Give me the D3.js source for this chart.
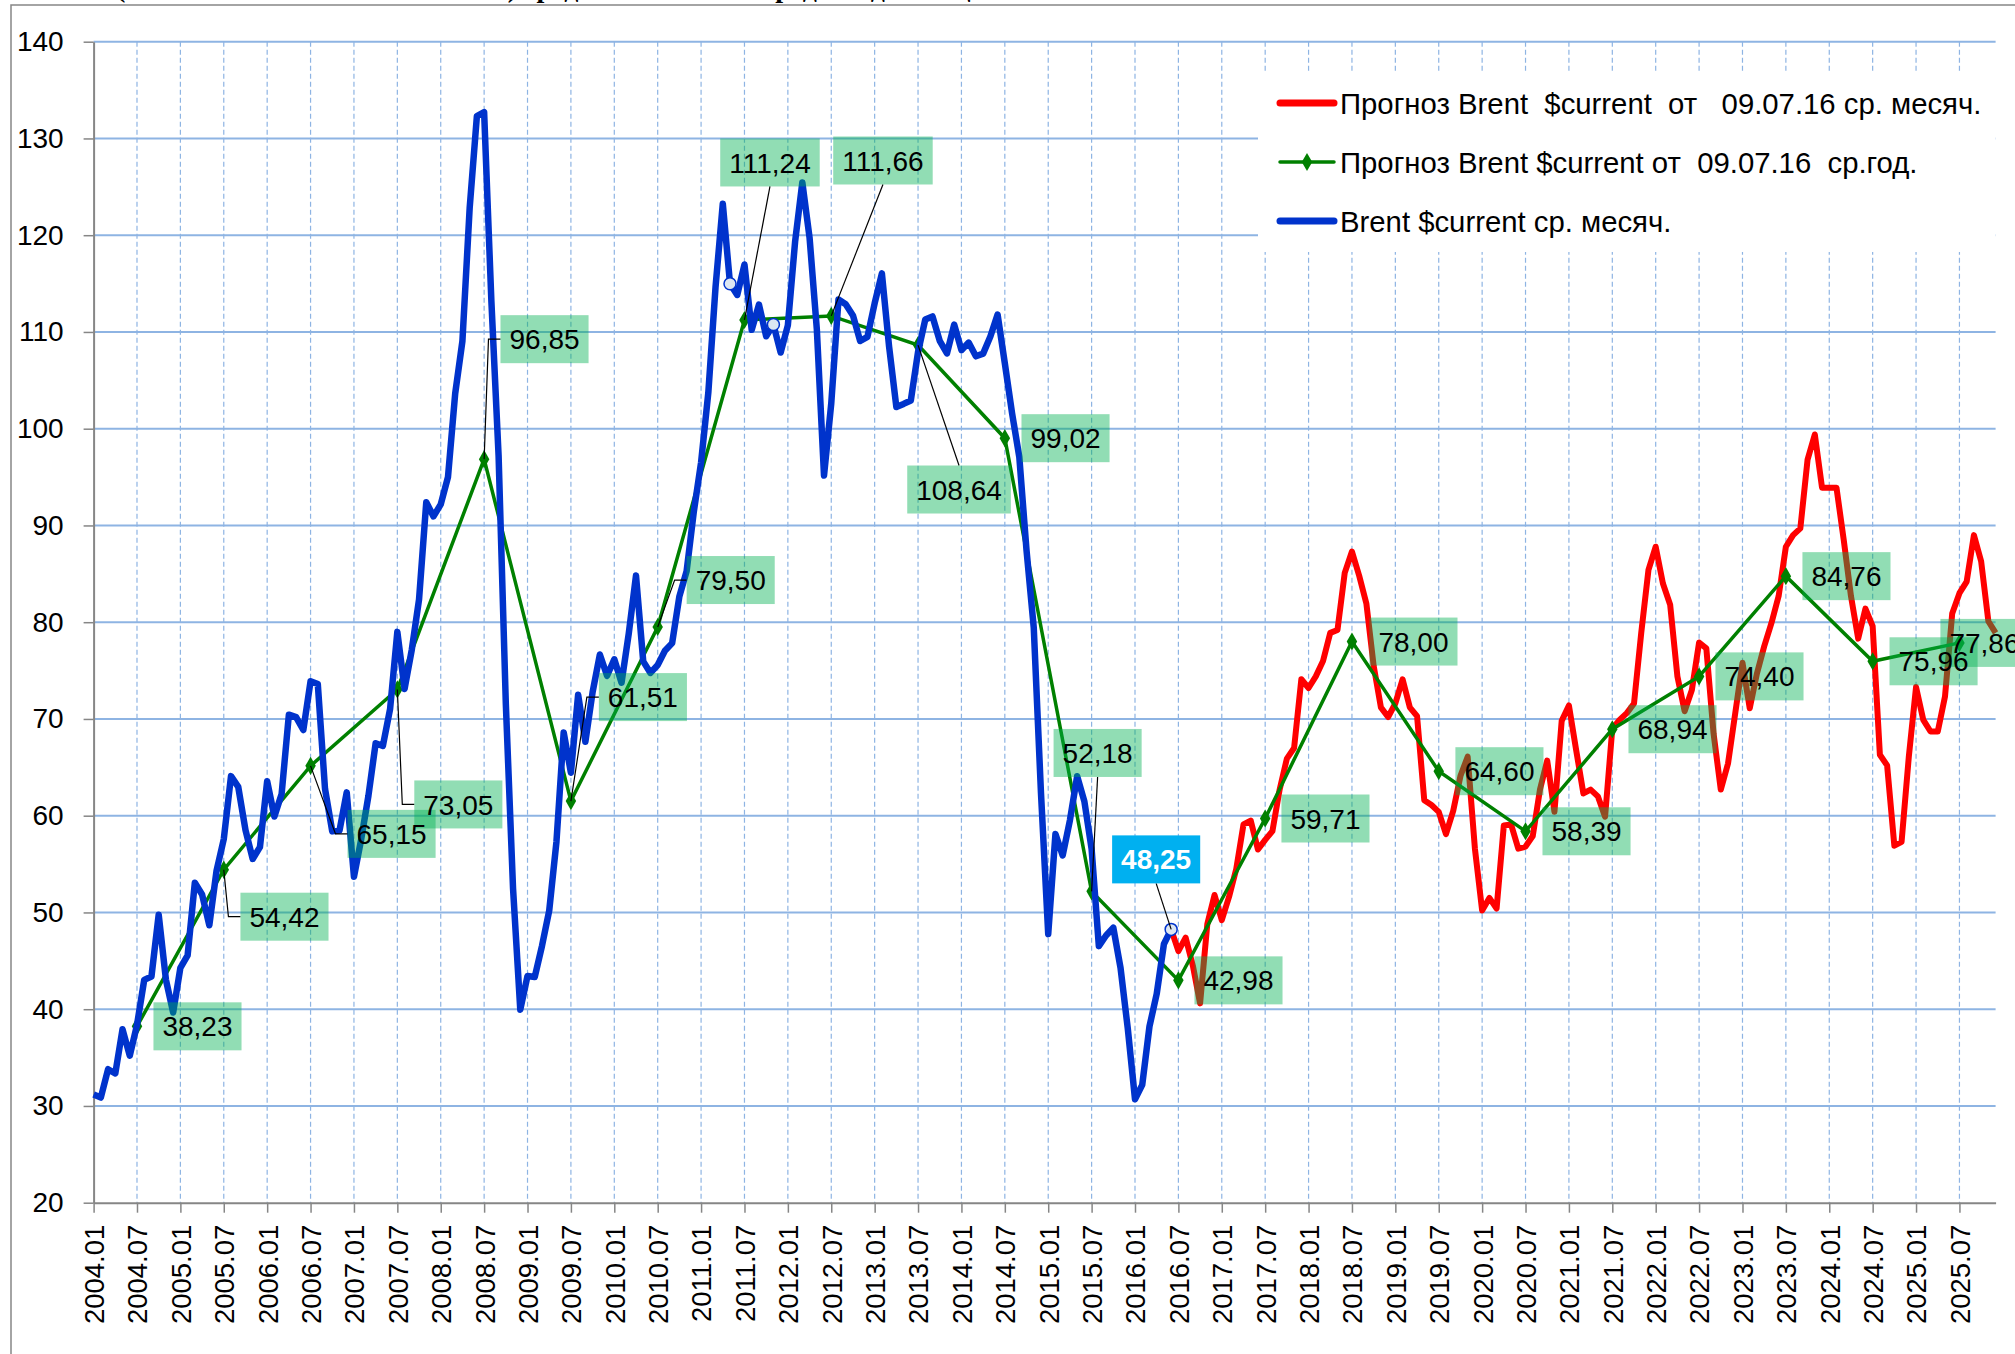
<!DOCTYPE html>
<html>
<head>
<meta charset="utf-8">
<script src="https://cdn.jsdelivr.net/npm/d3@7"></script>
<style>
body { margin: 0; background: #fff; }
svg { display: block; font-family: 'Liberation Sans', Arial, sans-serif; }
.keep { white-space: pre; }
</style>
</head>
<body>
<svg></svg>
<script>
// monthly Brent, $current, 2004.01 .. 2016.06
const brentMonthly = [
	31.18, 30.87, 33.80, 33.36, 37.92, 35.19, 38.37, 43.03, 43.38, 49.77, 43.05, 39.66,
	44.28, 45.56, 53.08, 51.86, 48.67, 54.31, 57.58, 64.09, 62.98, 58.52, 55.53, 56.75,
	63.57, 59.92, 62.25, 70.44, 70.19, 68.86, 73.90, 73.61, 62.77, 58.38, 58.46, 62.41,
	53.68, 57.56, 62.05, 67.49, 67.21, 71.05, 79.00, 73.10, 77.17, 82.34, 92.41, 90.93,
	92.18, 94.99, 103.64, 109.07, 122.80, 132.32, 132.72, 113.24, 97.23, 71.58, 52.45, 39.95,
	43.44, 43.32, 46.54, 50.18, 57.30, 68.61, 64.44, 72.51, 67.65, 72.77, 76.66, 74.46,
	76.17, 73.75, 78.83, 84.82, 75.95, 74.76, 75.58, 77.04, 77.84, 82.67, 85.28, 91.45,
	96.52, 103.72, 114.64, 123.26, 114.99, 113.83, 116.97, 110.22, 112.83, 109.55, 110.77, 107.87,
	110.69, 119.33, 125.45, 119.75, 110.34, 95.16, 102.62, 113.36, 112.86, 111.71, 109.06, 109.49,
	112.96, 116.05, 108.47, 102.25, 102.56, 102.92, 107.93, 111.28, 111.60, 109.08, 107.79, 110.76,
	108.12, 108.90, 107.48, 107.76, 109.54, 111.80, 106.77, 101.61, 97.09, 87.43, 79.44, 62.34,
	47.76, 58.10, 55.89, 59.52, 64.08, 61.48, 56.56, 46.52, 47.62, 48.43, 44.27, 38.01,
	30.70, 32.18, 38.21, 41.58, 46.74, 48.25
];

// forecast of 09.07.16, monthly, 2016.06 .. 2025.12
const forecastStart = '2016.06';
const forecastMonthly = [
	48.25, 46.0, 47.4, 44.5, 40.6, 48.8, 51.8,
	49.2, 51.6, 54.5, 59.1, 59.5, 56.5, 57.5, 58.4, 62.7, 65.9, 67.0, 74.1,
	73.2, 74.4, 76.0, 78.9, 79.2, 85.1, 87.3, 84.8, 81.9, 75.5, 71.2, 70.2,
	71.6, 74.1, 71.2, 70.3, 61.6, 61.1, 60.4, 58.1, 60.5, 64.1, 66.1, 56.6,
	50.2, 51.5, 50.4, 59.0, 59.1, 56.6, 56.8, 57.9, 62.7, 65.7, 60.4, 69.8,
	71.4, 66.8, 62.3, 62.7, 62.0, 59.9, 69.0, 69.9, 70.6, 71.6, 78.9, 85.4,
	87.8, 84.0, 81.8, 74.4, 70.8, 73.0, 77.9, 77.3, 68.5, 62.7, 65.4, 70.6,
	75.8, 71.1, 74.7, 77.5, 79.9, 82.7, 87.8, 89.0, 89.7, 96.8, 99.4, 93.9,
	93.9, 93.9, 88.5, 82.7, 78.3, 81.4, 79.6, 66.3, 65.2, 56.9, 57.3, 66.1,
	73.3, 69.9, 68.7, 68.7, 72.3, 80.9, 83.0, 84.2, 89.0, 86.3, 80.1, 78.9
];

// forecast of 09.07.16, yearly averages (plotted at July)
const annualYears = [2004, 2005, 2006, 2007, 2008, 2009, 2010, 2011, 2012, 2013, 2014,
	2015, 2016, 2017, 2018, 2019, 2020, 2021, 2022, 2023, 2024, 2025];
const annualValues = [38.23, 54.42, 65.15, 73.05, 96.85, 61.51, 79.50, 111.24, 111.66, 108.64, 99.02,
	52.18, 42.98, 59.71, 78.00, 64.60, 58.39, 68.94, 74.40, 84.76, 75.96, 77.86];

const markedMonths = ['2011.05', '2011.11', '2016.06'];
const calloutMonth = '2016.06';

const yTicks = [20, 30, 40, 50, 60, 70, 80, 90, 100, 110, 120, 130, 140];

const legendLabels = [
	'Прогноз Brent  $current  от   09.07.16 ср. месяч.',
	'Прогноз Brent $current от  09.07.16  ср.год.',
	'Brent $current ср. месяч.'
];

const titleText = '(номинальная стоимость Brent) среднемесячные и среднегодовые цены';

const svg = d3.select('svg')
	.attr('width', 2015)
	.attr('height', 1354);

let width = +svg.attr('width'),
	height = +svg.attr('height');

// label box centre relative to its point, and leader style
const labelPlacement = [
	[60.5, 0, ''], [60.7, 47, 'elbow'], [81, 68, 'elbow'], [61, 115, 'elbow'],
	[60.4, -120, 'elbow'], [72, -104, 'elbow'], [73, -47, 'elbow'], [25.5, -157.5, 'line'],
	[51.7, -155.4, 'line'], [41, 144.4, 'line'], [60.7, 0, ''], [6, -138.4, 'line'],
	[60.1, 0, ''], [60.3, 0, ''], [61.5, 0, ''], [60.7, 0, ''], [61, 0, ''],
	[60.2, 0, ''], [60.4, 0, ''], [60.6, 0, ''], [60.9, 0, ''], [25, 0, '']
];

const monthKey = i => `${2004 + Math.floor(i / 12)}.${String(i % 12 + 1).padStart(2, '0')}`;
const fmt = v => d3.format('.2f')(v).replace('.', ',');

const render = () => {
	const margin = { top: 41.7, right: 19.4, bottom: 151.3, left: 93.6 },
		gridColor = '#8eb4e3',
		axisColor = '#868686',
		labelFont = 28;

	const months = d3.range(264).map(monthKey);
	const tickMonths = months.filter((m, i) => i % 6 === 0);

	const xScale = d3.scalePoint()
		.domain(months)
		.range([margin.left, width - margin.right]);

	const yScale = d3.scaleLinear()
		.domain([20, 140])
		.range([height - margin.bottom, margin.top]);

	const brent = brentMonthly.map((v, i) => ({ month: months[i], value: v }));
	const f0 = months.indexOf(forecastStart);
	const forecast = forecastMonthly.map((v, i) => ({ month: months[f0 + i], value: v }));
	const annual = annualYears.map((yr, i) => ({ month: `${yr}.07`, value: annualValues[i] }));
	const valueAt = m => brent[months.indexOf(m)].value;

	// chart frame and cut-off title
	svg.append('text')
		.attr('x', 116)
		.attr('y', -3)
		.attr('font-family', "'Liberation Serif', 'Times New Roman', serif")
		.attr('font-weight', 'bold')
		.attr('font-size', 28)
		.text(titleText);

	svg.append('path')
		.attr('d', `M11,${height} V5 H${width}`)
		.attr('fill', 'none')
		.attr('stroke', axisColor)
		.attr('stroke-width', 1.5);

	// gridlines
	const grid = svg.append('g');
	grid.selectAll('.hgrid')
		.data(yTicks.slice(1))
		.enter()
		.append('line')
			.attr('x1', margin.left)
			.attr('x2', width - margin.right)
			.attr('y1', d => yScale(d))
			.attr('y2', d => yScale(d))
			.attr('stroke', gridColor)
			.attr('stroke-width', 2);

	grid.selectAll('.vgrid')
		.data(tickMonths.slice(1))
		.enter()
		.append('line')
			.attr('x1', d => xScale(d))
			.attr('x2', d => xScale(d))
			.attr('y1', margin.top)
			.attr('y2', yScale(20))
			.attr('stroke', gridColor)
			.attr('stroke-width', 1.2)
			.attr('stroke-dasharray', '5,3');

	// legend background hides the grid
	svg.append('rect')
		.attr('x', 1258)
		.attr('y', 72)
		.attr('width', width - margin.right - 1258)
		.attr('height', 180)
		.attr('fill', '#fff');

	// axes
	const xAxis = d3.axisBottom(xScale)
		.tickValues(tickMonths)
		.tickSize(10)
		.tickSizeOuter(0);

	const xAxisG = svg.append('g')
		.attr('transform', `translate(0, ${yScale(20)})`)
		.call(xAxis)
		.attr('font-family', null)
		.attr('font-size', 27.5);

	xAxisG.select('.domain').attr('stroke', axisColor).attr('stroke-width', 2);
	xAxisG.selectAll('.tick line').attr('stroke', axisColor).attr('stroke-width', 1.5);
	xAxisG.selectAll('.tick text')
		.attr('fill', '#000')
		.attr('text-anchor', 'end')
		.attr('transform', 'rotate(-90)')
		.attr('x', -22)
		.attr('y', 0)
		.attr('dy', '0.36em');

	const yAxis = d3.axisLeft(yScale)
		.tickValues(yTicks)
		.tickSize(10)
		.tickPadding(20)
		.tickSizeOuter(0);

	const yAxisG = svg.append('g')
		.attr('transform', `translate(${margin.left}, 0)`)
		.call(yAxis)
		.attr('font-family', null)
		.attr('font-size', 28);

	yAxisG.select('.domain').attr('stroke', axisColor).attr('stroke-width', 2);
	yAxisG.selectAll('.tick line').attr('stroke', axisColor).attr('stroke-width', 1.5);
	yAxisG.selectAll('.tick text').attr('fill', '#000');

	// series
	const line = d3.line()
		.x(d => xScale(d.month))
		.y(d => yScale(d.value));

	svg.append('path')
		.datum(forecast)
		.attr('d', line)
		.attr('fill', 'none')
		.attr('stroke', '#ff0000')
		.attr('stroke-width', 6)
		.attr('stroke-linejoin', 'round');

	svg.append('path')
		.datum(annual)
		.attr('d', line)
		.attr('fill', 'none')
		.attr('stroke', '#008000')
		.attr('stroke-width', 3.5);

	const diamond = d3.symbol().type(d3.symbolDiamond).size(95);

	svg.selectAll('.yearMark')
		.data(annual)
		.enter()
		.append('path')
			.attr('d', diamond)
			.attr('transform', d => `translate(${xScale(d.month)}, ${yScale(d.value)})`)
			.attr('fill', '#008000');

	svg.append('path')
		.datum(brent)
		.attr('d', line)
		.attr('fill', 'none')
		.attr('stroke', '#0033cc')
		.attr('stroke-width', 6.5)
		.attr('stroke-linejoin', 'round');

	svg.selectAll('.openMark')
		.data(markedMonths)
		.enter()
		.append('circle')
			.attr('cx', d => xScale(d))
			.attr('cy', d => yScale(valueAt(d)))
			.attr('r', 6)
			.attr('fill', '#dce6f2')
			.attr('stroke', '#0033cc')
			.attr('stroke-width', 1.5);

	// data labels of yearly forecast
	const labelsG = svg.append('g').attr('font-size', labelFont);

	const addLabel = (px, py, cx, cy, text, leader, fill, opacity, color, weight) => {
		const t = labelsG.append('text')
			.attr('x', cx)
			.attr('y', cy)
			.attr('dy', '0.36em')
			.attr('text-anchor', 'middle')
			.attr('fill', color)
			.attr('font-weight', weight)
			.text(text);
		const w = t.node().getComputedTextLength() + 18,
			h = 48,
			left = cx - w / 2,
			top = cy - h / 2;

		if (leader === 'elbow') {
			labelsG.insert('path', 'text')
				.attr('d', `M${px},${py} L${left - 12},${cy} H${left}`)
				.attr('fill', 'none').attr('stroke', '#000').attr('stroke-width', 1.2);
		} else if (leader === 'line') {
			const ey = py > cy ? top + h : top;
			labelsG.insert('path', 'text')
				.attr('d', `M${px},${py} L${cx},${ey}`)
				.attr('fill', 'none').attr('stroke', '#000').attr('stroke-width', 1.2);
		}

		labelsG.insert('rect', 'text')
			.attr('x', left)
			.attr('y', top)
			.attr('width', w)
			.attr('height', h)
			.attr('fill', fill)
			.attr('fill-opacity', opacity);
	};

	annual.forEach((d, i) => {
		const [dx, dy, leader] = labelPlacement[i];
		const px = xScale(d.month), py = yScale(d.value);
		addLabel(px, py, px + dx, py + dy, fmt(d.value), leader, '#00b050', 0.43, '#000', 'normal');
	});

	const cpx = xScale(calloutMonth), cpy = yScale(valueAt(calloutMonth));
	addLabel(cpx, cpy, cpx - 15, cpy - 70, fmt(valueAt(calloutMonth)), 'line', '#00b0f0', 1, '#fff', 'bold');

	// legend
	const legendG = svg.append('g').attr('transform', 'translate(1280, 103)');
	const legendColors = ['#ff0000', '#008000', '#0033cc'];
	const legendWidths = [7, 3.5, 7];

	legendLabels.forEach((label, i) => {
		const row = legendG.append('g').attr('transform', `translate(0, ${i * 59})`);
		row.append('line')
			.attr('x1', 0).attr('x2', 54)
			.attr('stroke', legendColors[i])
			.attr('stroke-width', legendWidths[i])
			.attr('stroke-linecap', 'round');
		if (i === 1) {
			row.append('path')
				.attr('d', diamond)
				.attr('transform', 'translate(27, 0)')
				.attr('fill', legendColors[i]);
		}
		row.append('text')
			.attr('class', 'keep')
			.attr('x', 60)
			.attr('dy', '0.36em')
			.attr('font-size', 29.3)
			.attr('fill', '#000')
			.text(label);
	});
};

render();
</script>
</body>
</html>
